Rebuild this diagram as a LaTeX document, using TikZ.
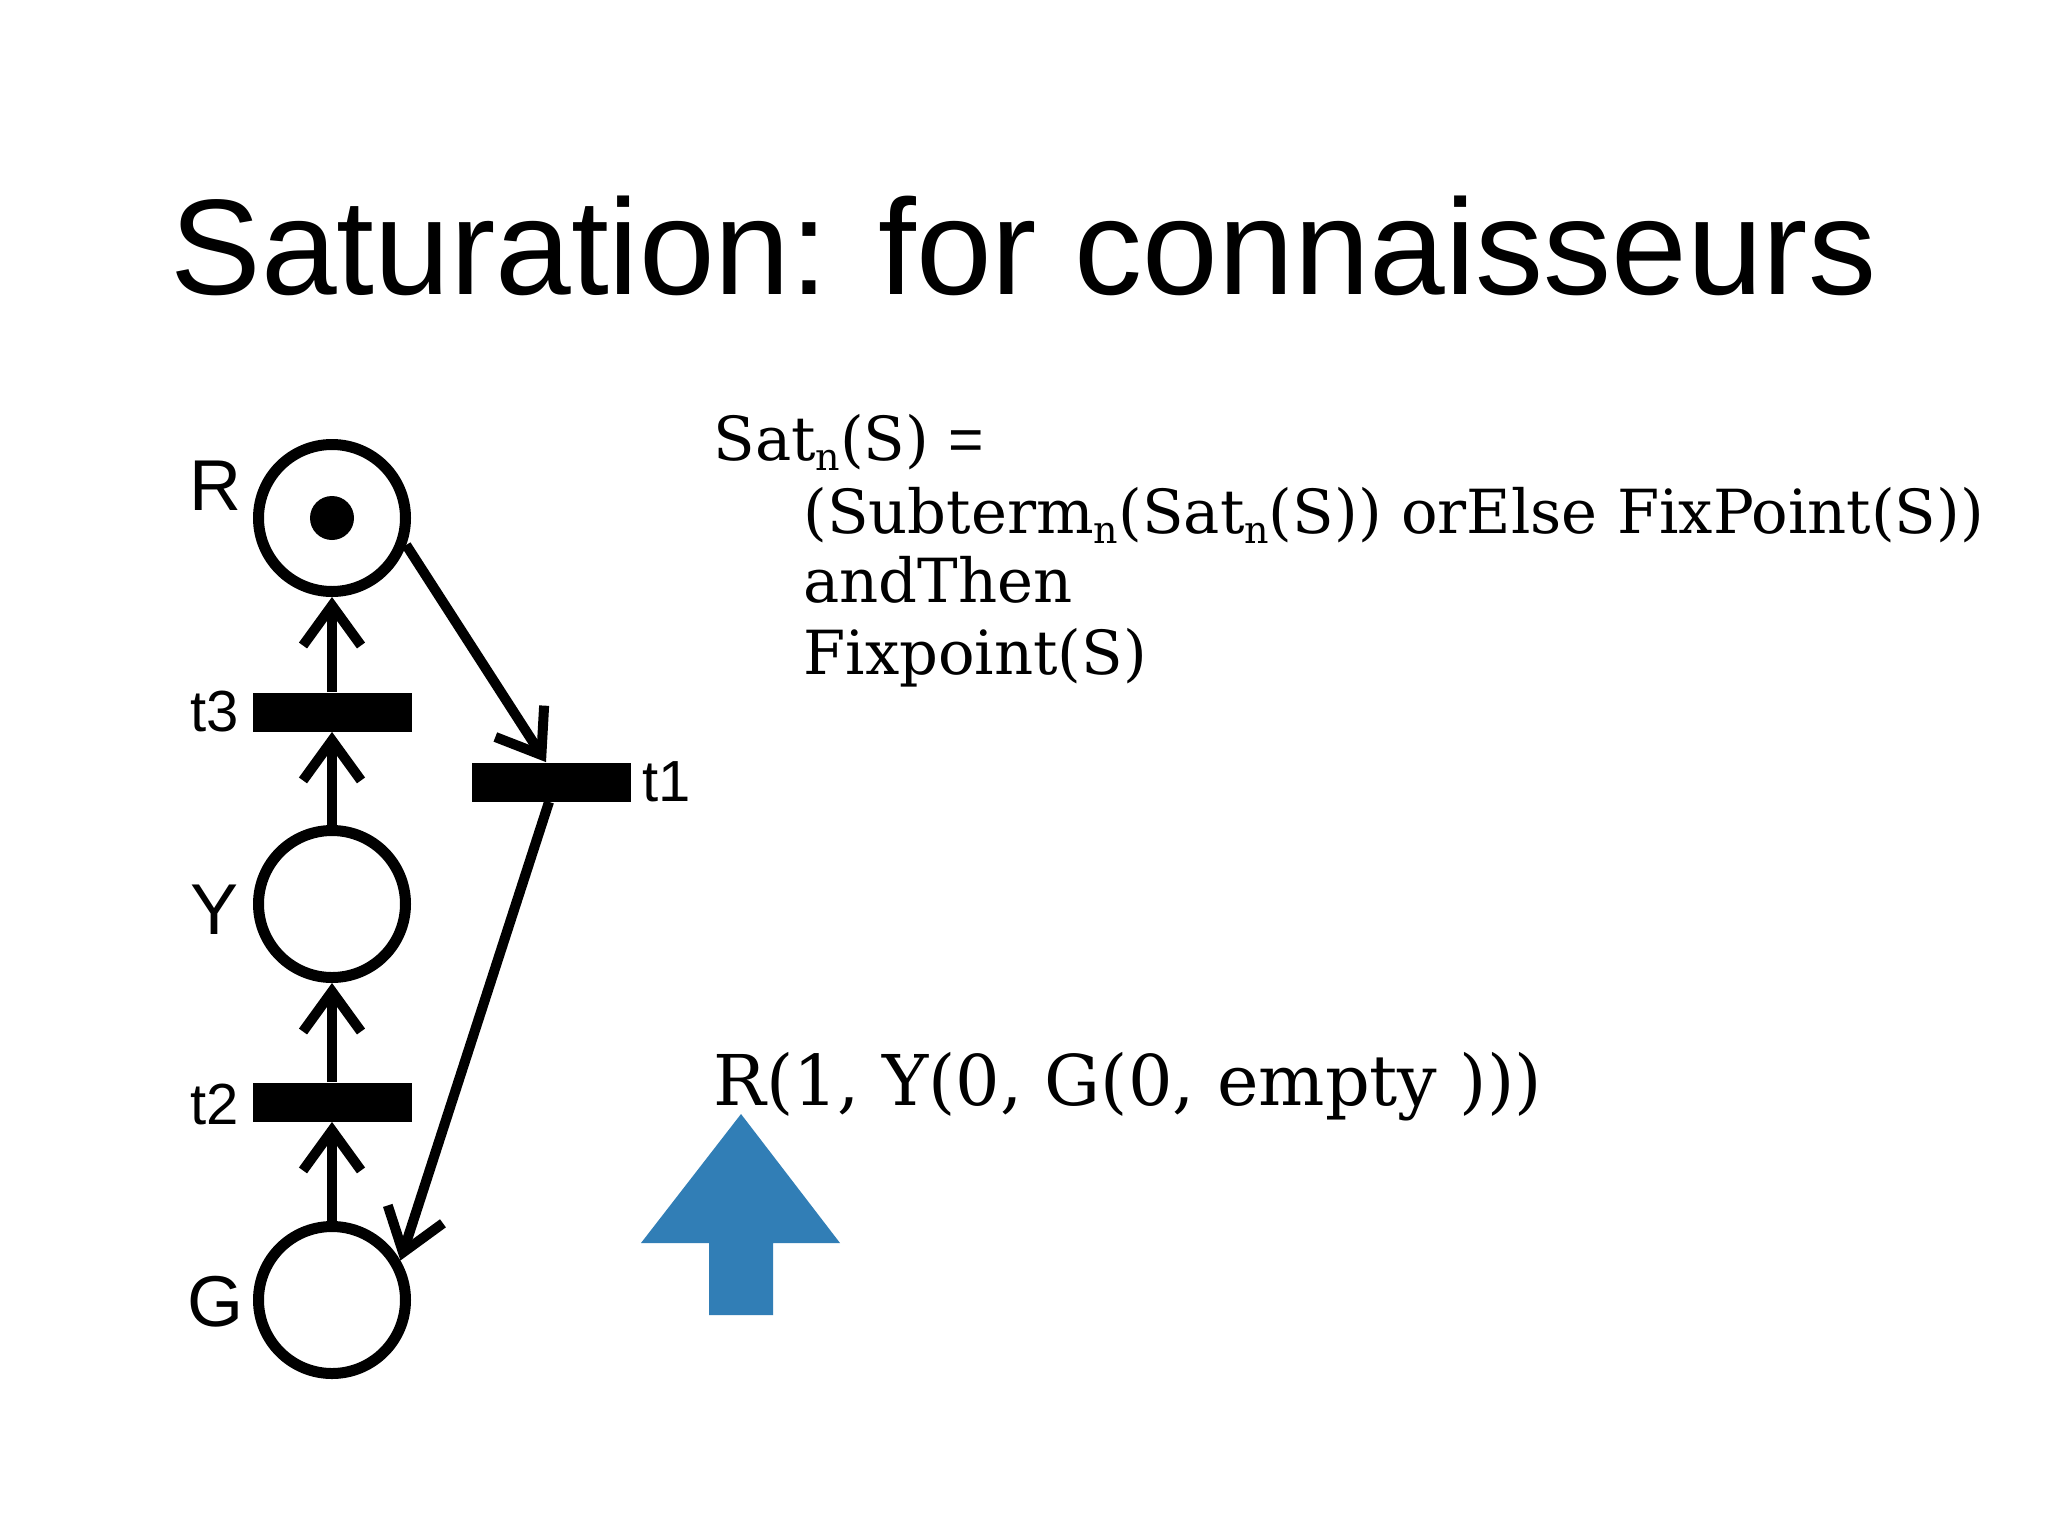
\documentclass[tikz,border=0pt]{standalone}
\usepackage{fontspec}
\usepackage{graphicx}
\setmainfont{Liberation Sans}
\newfontfamily\tw{DejaVu Serif}
\usetikzlibrary{arrows.meta}
\definecolor{bluearrow}{RGB}{49,126,182}
\newcommand\subn{\raisebox{-0.18em}{\fontsize{19pt}{19pt}\selectfont n}}
\begin{document}
\begin{tikzpicture}[x=0.5pt,y=-0.5pt,
  place/.style={circle,draw,line width=5.5pt,minimum size=73.5pt,inner sep=0pt},
  trans/.style={rectangle,fill=black,minimum width=79.5pt,minimum height=19.5pt,inner sep=0pt},
  lbl/.style={font=\fontsize{36pt}{36pt}\selectfont,inner sep=0pt},
  tlbl/.style={font=\fontsize{29pt}{29pt}\selectfont,inner sep=0pt},
  arr/.style={line width=5pt,-{Straight Barb[length=20pt,width=29pt,line cap=butt,line join=miter]}},
  formula/.style={font=\tw\fontsize{30.4pt}{30.4pt}\selectfont,anchor=base west,inner sep=0pt},
]
\fill[white] (0,0) rectangle (2048,1536);
\path[use as bounding box] (0,0) rectangle (2048,1536);

\node[anchor=base west, inner sep=0pt, font=\fontsize{68pt}{68pt}\selectfont] (title) at (170,294) {Saturation: for connaisseurs};

% places
\node[place] (R) at (332,518) {};
\node[circle,fill=black,minimum size=22pt,inner sep=0pt] (tok) at (332,518) {};
\node[place] (Y) at (332,904) {};
\node[place] (G) at (332,1300) {};

% transitions
\node[trans] (t3) at (332,712) {};
\node[trans] (t2) at (332,1102) {};
\node[trans] (t1) at (551,782) {};

% labels
\node[lbl] (lR) at (215,486) {R};
\node[lbl] (lY) at (215,910) {Y};
\node[lbl] (lG) at (215,1302) {G};
\node[tlbl] (lt3) at (215,712) {t3};
\node[tlbl] (lt2) at (215,1104) {t2};
\node[tlbl] (lt1) at (667,782) {t1};

% arcs
\draw[arr] (G.north) -- (t2.south);
\draw[arr] (t2.north) -- (Y.south);
\draw[arr] (Y.north) -- (t3.south);
\draw[arr] (t3.north) -- (R.south);
\draw[arr] (R.-20) -- ([xshift=-2.5pt]t1.north);
\draw[arr] ([xshift=-1pt]t1.south) -- (G.30);

% formula
\node[formula] (f1) at (713,460) {Sat\subn(S) {\normalfont =}};
\node[formula] (f2) at (803,533) {(Subterm\subn(Sat\subn(S)) orElse FixPoint(S))};
\node[formula] (f3) at (803,602) {andThen};
\node[formula] (f4) at (803,674) {Fixpoint(S)};

\node[anchor=base west,inner sep=0pt,font=\tw\fontsize{35pt}{35pt}\selectfont] (state) at (713,1105) {R(1, Y(0, G(0, empty )))};

% blue arrow
\fill[bluearrow] (741,1114) -- (840,1243) -- (773,1243) -- (773,1315) -- (709,1315) -- (709,1243) -- (641,1243) -- cycle;
\end{tikzpicture}
\end{document}
